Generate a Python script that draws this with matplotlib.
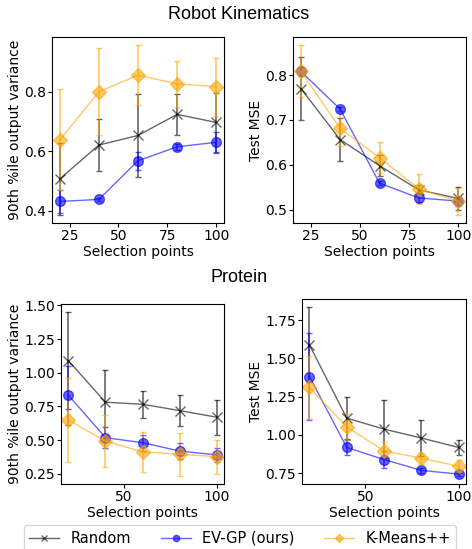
import numpy as np
import matplotlib
matplotlib.use("Agg")
import matplotlib.pyplot as plt
from matplotlib.lines import Line2D

# selection budgets
sel_points = [20, 40, 60, 80, 100]

# Robot Kinematics - 90th %ile output variance
rk_var_random = [0.507, 0.621, 0.653, 0.724, 0.697]
rk_var_random_err = [0.12, 0.086, 0.14, 0.07, 0.10]
rk_var_evgp = [0.431, 0.438, 0.568, 0.615, 0.630]
rk_var_evgp_err = [0.04, 0.005, 0.03, 0.01, 0.035]
rk_var_kmeans = [0.638, 0.800, 0.856, 0.827, 0.817]
rk_var_kmeans_err = [0.17, 0.147, 0.10, 0.078, 0.098]

# Robot Kinematics - test MSE
rk_mse_random = [0.770, 0.656, 0.598, 0.544, 0.525]
rk_mse_random_err = [0.07, 0.048, 0.024, 0.01, 0.025]
rk_mse_evgp = [0.808, 0.724, 0.559, 0.526, 0.519]
rk_mse_evgp_err = [0.01, 0.004, 0.004, 0.01, 0.01]
rk_mse_kmeans = [0.808, 0.681, 0.616, 0.546, 0.519]
rk_mse_kmeans_err = [0.058, 0.04, 0.034, 0.033, 0.03]

# Protein - 90th %ile output variance
pr_var_random = [1.089, 0.781, 0.766, 0.719, 0.670]
pr_var_random_err = [0.36, 0.24, 0.10, 0.117, 0.13]
pr_var_evgp = [0.833, 0.518, 0.481, 0.419, 0.390]
pr_var_evgp_err = [0.22, 0.08, 0.06, 0.06, 0.053]
pr_var_kmeans = [0.648, 0.493, 0.412, 0.395, 0.377]
pr_var_kmeans_err = [0.31, 0.196, 0.148, 0.16, 0.125]

# Protein - test MSE
pr_mse_random = [1.589, 1.110, 1.038, 0.980, 0.918]
pr_mse_random_err = [0.245, 0.135, 0.19, 0.117, 0.05]
pr_mse_evgp = [1.382, 0.918, 0.839, 0.768, 0.744]
pr_mse_evgp_err = [0.285, 0.05, 0.053, 0.015, 0.01]
pr_mse_kmeans = [1.311, 1.053, 0.896, 0.848, 0.795]
pr_mse_kmeans_err = [0.206, 0.086, 0.055, 0.035, 0.044]

method_labels = ["Random", "EV-GP (ours)", "K-Means++"]
method_colors = ["k", "blue", "orange"]
method_markers = ["x", "o", "D"]

W, H = 472, 549
fig = plt.figure(figsize=(W / 100, H / 100), dpi=100)


def px_axes(x0, y0, x1, y1):
    # pixel box (top-left origin) -> figure fraction
    return fig.add_axes([x0 / W, 1 - y1 / H, (x1 - x0) / W, (y1 - y0) / H])


def draw(ax, series, ylabel, xticks):
    for (vals, errs), c, m in zip(series, method_colors, method_markers):
        ax.errorbar(sel_points, vals, yerr=errs, color=c, marker=m, ms=7,
                    lw=1, alpha=0.6, capsize=2.5, elinewidth=1.2, capthick=1)
    ax.set_xlabel("Selection points", fontsize=10, labelpad=1.5)
    ax.set_ylabel(ylabel, fontsize=10, labelpad=1.5)
    ax.set_xticks(xticks)
    ax.set_xlim(16, 104)
    ax.tick_params(labelsize=10, length=3, pad=1.5)


ax1 = px_axes(52, 37, 224, 223)
draw(ax1, [(rk_var_random, rk_var_random_err),
           (rk_var_evgp, rk_var_evgp_err),
           (rk_var_kmeans, rk_var_kmeans_err)],
     "90th %ile output variance", [25, 50, 75, 100])
ax1.set_yticks([0.4, 0.6, 0.8])

ax2 = px_axes(293, 37, 466, 223)
draw(ax2, [(rk_mse_random, rk_mse_random_err),
           (rk_mse_evgp, rk_mse_evgp_err),
           (rk_mse_kmeans, rk_mse_kmeans_err)],
     "Test MSE", [25, 50, 75, 100])

ax3 = px_axes(61, 304, 224, 484)
draw(ax3, [(pr_var_random, pr_var_random_err),
           (pr_var_evgp, pr_var_evgp_err),
           (pr_var_kmeans, pr_var_kmeans_err)],
     "90th %ile output variance", [50, 100])
ax3.set_yticks([0.25, 0.5, 0.75, 1.0, 1.25, 1.5])

ax4 = px_axes(302, 299, 466, 484)
draw(ax4, [(pr_mse_random, pr_mse_random_err),
           (pr_mse_evgp, pr_mse_evgp_err),
           (pr_mse_kmeans, pr_mse_kmeans_err)],
     "Test MSE", [50, 100])
ax4.set_yticks([0.75, 1.0, 1.25, 1.5, 1.75])

title_font = dict(fontsize=13, family=["Liberation Sans", "DejaVu Sans"],
                  ha="center", va="center")
fig.text(239 / W, 1 - 14.5 / H, "Robot Kinematics", **title_font)
fig.text(239 / W, 1 - 277 / H, "Protein", **title_font)

handles = [Line2D([], [], color=c, marker=m, ms=4.5, lw=1, alpha=0.6)
           for c, m in zip(method_colors, method_markers)]
fig.legend(handles, method_labels, loc="upper center", ncol=3,
           bbox_to_anchor=(240 / W, 1 - 525 / H), fontsize=10.5,
           columnspacing=2.0, handlelength=2.05, handletextpad=0.8,
           borderaxespad=0)

fig.savefig("out.png", dpi=100)
